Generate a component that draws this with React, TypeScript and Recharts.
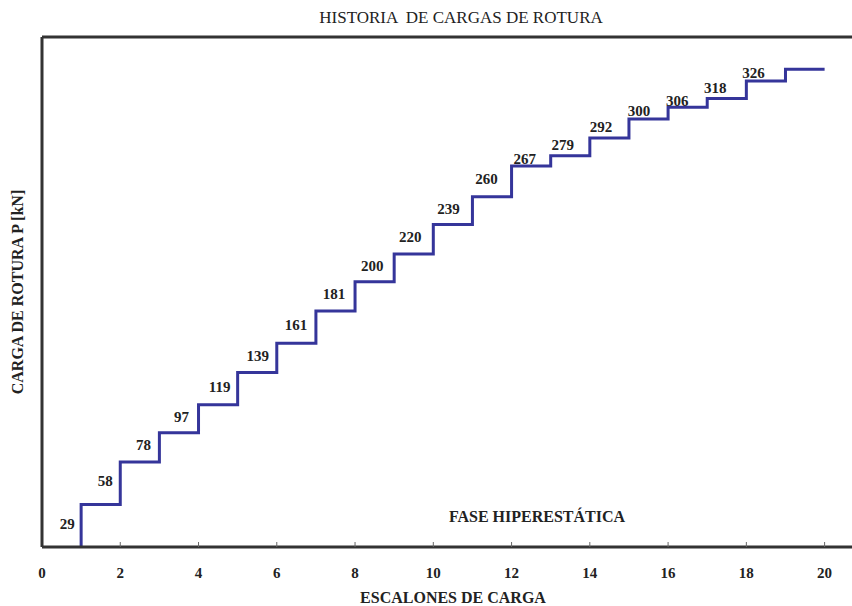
import React from 'react';
import {
  ComposedChart,
  Line,
  Scatter,
  XAxis,
  YAxis,
  ReferenceLine,
  ReferenceDot
} from 'recharts';

const ESCALONES = [1, 2, 3, 4, 5, 6, 7, 8, 9, 10, 11, 12, 13, 14, 15, 16, 17, 18, 19];
const CARGAS = [29, 58, 78, 97, 119, 139, 161, 181, 200, 220, 239, 260, 267, 279, 292, 300, 306, 318, 326];
const ULTIMO_ESCALON = 20;
const X_TICKS = [0, 2, 4, 6, 8, 10, 12, 14, 16, 18, 20];

const X_MAX = 20.7;
const Y_MAX = 348;
const FONT = '"Liberation Serif", "Times New Roman", serif';
const AXIS_COLOR = '#333333';
const LINE_COLOR = '#35359a';

// step path: starts on the baseline at the first escalon, ends flat at escalon 20
const stepData = [
  { x: ESCALONES[0], p: 0 },
  ...ESCALONES.map((e, i) => ({ x: e, p: CARGAS[i] })),
  { x: ULTIMO_ESCALON, p: CARGAS[CARGAS.length - 1] }
];

// value labels sit half way up each riser
const labelData = ESCALONES.map((e, i) => ({
  x: e,
  mid: ((i === 0 ? 0 : CARGAS[i - 1]) + CARGAS[i]) / 2,
  value: CARGAS[i],
  idx: i
}));

const StepLabel = (props: any) => {
  const { cx, cy, payload } = props;
  if (cx == null || cy == null) return null;
  return (
    <text
      x={cx - (14 + payload.idx)}
      y={cy - 2}
      textAnchor="middle"
      dominantBaseline="central"
      fontFamily={FONT}
      fontWeight="bold"
      fontSize={15}
      fill="#222"
    >
      {payload.value}
    </text>
  );
};

const XTick = (props: any) => {
  const { x, y, payload } = props;
  return (
    <g>
      {payload.value !== 0 && <line x1={x} y1={y} x2={x} y2={y - 5} stroke="#666" strokeWidth={1} />}
      <text
        x={x}
        y={y + 26}
        textAnchor="middle"
        dominantBaseline="central"
        fontFamily={FONT}
        fontWeight="bold"
        fontSize={15}
        fill="#222"
      >
        {payload.value}
      </text>
    </g>
  );
};

export default function App() {
  return (
    <div style={{ position: 'absolute', left: 0, top: 0, width: 852, height: 606, overflow: 'hidden', background: '#fff', fontFamily: FONT }}>
      <div style={{ position: 'absolute', left: 0, width: 922, top: 8, textAlign: 'center', fontSize: 17, color: '#222', whiteSpace: 'pre', lineHeight: '20px' }}>
        {'HISTORIA  DE CARGAS DE ROTURA'}
      </div>
      <div
        style={{
          position: 'absolute',
          left: 18,
          top: 292,
          transform: 'translate(-50%, -50%) rotate(-90deg)',
          fontSize: 16,
          fontWeight: 'bold',
          color: '#222',
          whiteSpace: 'nowrap',
          lineHeight: '20px'
        }}
      >
        CARGA DE ROTURA P [kN]
      </div>
      <div style={{ position: 'absolute', left: 0, width: 906, top: 588, textAlign: 'center', fontSize: 16, fontWeight: 'bold', color: '#222', lineHeight: '20px' }}>
        ESCALONES DE CARGA
      </div>
      <ComposedChart width={852} height={606} margin={{ top: 37, right: 0, bottom: 0, left: 42 }}>
        <XAxis
          type="number"
          dataKey="x"
          domain={[0, X_MAX]}
          ticks={X_TICKS}
          allowDataOverflow
          height={59}
          tickSize={0}
          tickMargin={0}
          tickLine={false}
          tick={<XTick />}
          axisLine={{ stroke: AXIS_COLOR, strokeWidth: 3 }}
        />
        <YAxis type="number" domain={[0, Y_MAX]} allowDataOverflow width={0} tick={false} tickLine={false} axisLine={false} />
        <ReferenceLine y={Y_MAX} stroke={AXIS_COLOR} strokeWidth={3} ifOverflow="visible" />
        <ReferenceLine x={0} stroke={AXIS_COLOR} strokeWidth={3} ifOverflow="visible" />
        <Line
          data={stepData}
          dataKey="p"
          type="stepAfter"
          stroke={LINE_COLOR}
          strokeWidth={3}
          dot={false}
          activeDot={false}
          isAnimationActive={false}
        />
        <Scatter data={labelData} dataKey="mid" shape={<StepLabel />} isAnimationActive={false} />
        <ReferenceDot
          x={12.65}
          y={21.2}
          r={0}
          ifOverflow="visible"
          label={{ value: 'FASE HIPERESTÁTICA', position: 'center', fontFamily: FONT, fontWeight: 'bold', fontSize: 16, fill: '#222' }}
        />
      </ComposedChart>
    </div>
  );
}
